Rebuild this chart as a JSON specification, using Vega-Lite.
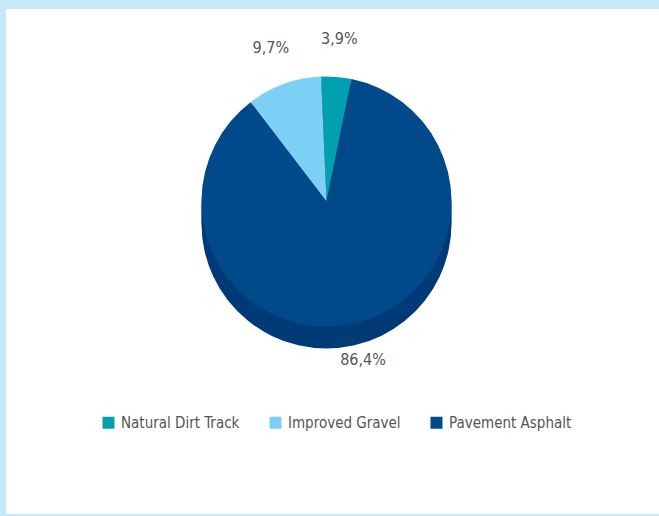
{
  "$schema": "https://vega.github.io/schema/vega-lite/v6.json",
  "autosize": {"type": "fit", "contains": "padding"},
  "width": 659,
  "height": 516,
  "padding": {"top": 9, "left": 6, "right": 0, "bottom": 2},
  "background": "#c5e9f8",
  "config": {
    "view": {"stroke": null},
    "font": "DejaVu Sans Condensed, Roboto, sans-serif"
  },
  "data": {
    "values": [
      {"category": "Natural Dirt Track", "share": 3.9, "label": "3,9%"},
      {"category": "Improved Gravel", "share": 9.7, "label": "9,7%"},
      {"category": "Pavement Asphalt", "share": 86.4, "label": "86,4%"}
    ]
  },
  "layer": [
    {
      "data": {"values": [{}]},
      "mark": {"type": "rect", "fill": "white"},
      "encoding": {}
    },
    {
      "mark": {"type": "arc", "outerRadius": 125, "fill": "#003a77", "xOffset": -6, "yOffset": -38},
      "encoding": {
        "theta": {"field": "share", "type": "quantitative", "stack": true, "scale": {"range": [-0.653, 5.630]}},
        "order": {"field": "category", "type": "ordinal", "sort": "ascending"}
      }
    },
    {
      "mark": {"type": "arc", "outerRadius": 125, "fill": "#003a77", "xOffset": -6, "yOffset": -44},
      "encoding": {
        "theta": {"field": "share", "type": "quantitative", "stack": true},
        "order": {"field": "category", "type": "ordinal", "sort": "ascending"}
      }
    },
    {
      "mark": {"type": "arc", "outerRadius": 125, "fill": "#003a77", "xOffset": -6, "yOffset": -50},
      "encoding": {
        "theta": {"field": "share", "type": "quantitative", "stack": true},
        "order": {"field": "category", "type": "ordinal", "sort": "ascending"}
      }
    },
    {
      "mark": {"type": "arc", "outerRadius": 125, "fill": "#003a77", "xOffset": -6, "yOffset": -55},
      "encoding": {
        "theta": {"field": "share", "type": "quantitative", "stack": true},
        "order": {"field": "category", "type": "ordinal", "sort": "ascending"}
      }
    },
    {
      "mark": {"type": "arc", "outerRadius": 125, "xOffset": -6, "yOffset": -60},
      "encoding": {
        "theta": {"field": "share", "type": "quantitative", "stack": true},
        "order": {"field": "category", "type": "ordinal", "sort": "ascending"},
        "color": {
          "field": "category",
          "type": "nominal",
          "scale": {
            "domain": ["Natural Dirt Track", "Improved Gravel", "Pavement Asphalt"],
            "range": ["#00a0b0", "#7dd0f5", "#004a8c"]
          },
          "legend": {
            "title": null,
            "orient": "none",
            "legendX": 95,
            "legendY": 406,
            "direction": "horizontal",
            "columns": 3,
            "symbolType": "square",
            "symbolSize": 144,
            "symbolStrokeWidth": 0,
            "labelFontSize": 15,
            "labelColor": "#555555",
            "columnPadding": 28,
            "labelOffset": 5,
            "padding": 0
          }
        }
      }
    },
    {
      "mark": {"type": "text", "radius": 163, "xOffset": -6, "yOffset": -60, "fontSize": 16, "fill": "#555555"},
      "encoding": {
        "theta": {"field": "share", "type": "quantitative", "stack": true},
        "order": {"field": "category", "type": "ordinal", "sort": "ascending"},
        "text": {"field": "label"}
      }
    }
  ]
}
